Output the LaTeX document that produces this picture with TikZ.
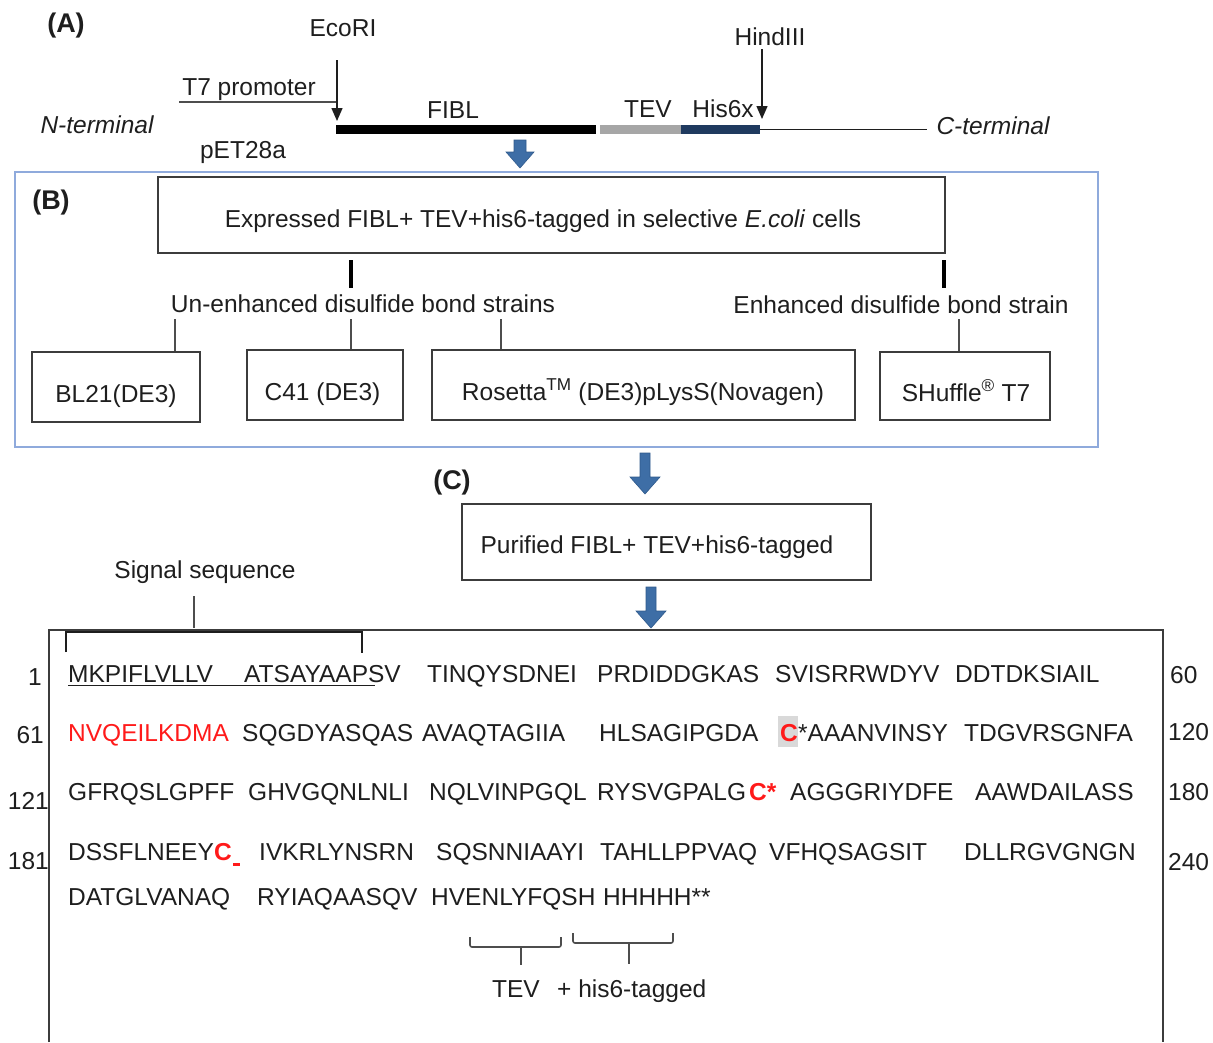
\documentclass[tikz,border=0pt]{standalone}
\usepackage{fontspec}
\setmainfont{Liberation Sans}
\usetikzlibrary{arrows.meta,calc}
\definecolor{ink}{HTML}{1E1E1E}
\definecolor{boxline}{HTML}{3C3C3C}
\definecolor{frameblue}{HTML}{8FAADC}
\definecolor{arrowblue}{HTML}{3E6EA6}
\definecolor{arrowedge}{HTML}{2F5A8C}
\definecolor{tevgray}{HTML}{A6A6A6}
\definecolor{hisnavy}{HTML}{1F3A5F}
\definecolor{seqred}{HTML}{FF1A1A}
\definecolor{hlgray}{HTML}{D9D9D9}
\definecolor{linkgray}{HTML}{4D4D4D}
\newcommand\fsz{\fontsize{24.5}{29}\selectfont}
\newcommand\fszb{\fontsize{27}{32}\selectfont\bfseries}
\begin{document}
\begin{tikzpicture}[x=1pt,y=-1pt,
  txt/.style={inner sep=0pt,anchor=base,font=\fsz,text=ink},
  txtw/.style={txt,anchor=base west},
  txte/.style={txt,anchor=base east},
  panel/.style={txt,font=\fszb},
  hot/.style={txtw,text=seqred},
  hotb/.style={txtw,text=seqred,font=\fsz\bfseries},
  box/.style={draw=boxline,line width=1.8pt,inner sep=0pt},
  frame/.style={draw=frameblue,line width=2.2pt,inner sep=0pt},
  pointer/.style={draw=ink,line width=1.4pt,-{Triangle[width=11pt,length=13pt]}},
  link/.style={draw=linkgray,line width=1.4pt},
  stem/.style={draw=black,line width=4pt},
  backbone/.style={draw=ink,line width=1.6pt},
  bar/.style={inner sep=0pt,minimum height=9pt},
  blockarrow/.style={fill=arrowblue,draw=arrowedge,line width=0.6pt},
  bracketline/.style={draw=ink,line width=1.6pt},
  tagbracket/.style={draw=linkgray,line width=1.6pt,rounded corners=2pt},
  seqframe/.style={draw=boxline,line width=2pt}
]
\useasboundingbox (0,0) rectangle (1213,1042);

% ---------------- (A) construct ----------------
\node[panel] (labA) at (66,32) {(A)};
\node[txt] (eco) at (343,36) {EcoRI};
\node[txt] (hind) at (770,45) {HindIII};
\node[txt] (t7) at (249,95) {T7 promoter};
\node[txt,font=\fsz\itshape] (nterm) at (97,133) {N-terminal};
\node[txt] (fibl) at (453,118) {FIBL};
\node[txt] (tevA) at (648,117) {TEV};
\node[txt] (hisA) at (723,117) {His6x};
\node[txt,font=\fsz\itshape] (cterm) at (993,134) {C-terminal};
\node[txt] (pet) at (243,158) {pET28a};

\node[bar,fill=black,minimum width=260pt] (fiblbar) at (466,129.5) {};
\node[bar,fill=tevgray,minimum width=81pt] (tevbar) at (640.5,129.5) {};
\node[bar,fill=hisnavy,minimum width=79pt] (hisbar) at (720.5,129.5) {};
\coordinate (cend) at (927,129.5);
\draw[backbone] (hisbar.east) -- (cend);

\coordinate (t7start) at (179,102);
\coordinate (ecotop) at (337,60);
\coordinate (ecotip) at (337,121);
\draw[link] (t7start) -- (t7start -| ecotop);
\draw[pointer] (ecotop) -- (ecotip);
\coordinate (hindtop) at (762,49);
\coordinate (hindtip) at (762,119);
\draw[pointer] (hindtop) -- (hindtip);

\filldraw[blockarrow] (514,140) -- (526,140) -- (526,152) -- (534,152) -- (520,168) -- (506,152) -- (514,152) -- cycle;

% ---------------- (B) expression ----------------
\node[frame,minimum width=1083pt,minimum height=275pt] (Bframe) at (556.5,309.5) {};
\node[panel] (labB) at (51,209) {(B)};
\node[box,minimum width=787pt,minimum height=76pt] (expr) at (551.5,215) {};
\node[txt] (exprtxt) at (543,227) {Expressed FIBL+ TEV+his6-tagged in selective \textit{E.coli} cells};

\coordinate (k1a) at (351,260);
\coordinate (k1b) at (351,288);
\draw[stem] (k1a) -- (k1b);
\coordinate (k2a) at (944,260);
\coordinate (k2b) at (944,288);
\draw[stem] (k2a) -- (k2b);

\node[txt] (unenh) at (363,312) {Un-enhanced disulfide bond strains};
\node[txt] (enh) at (901,313) {Enhanced disulfide bond strain};

\node[box,minimum width=168pt,minimum height=70pt] (bl) at (116,387) {};
\node[box,minimum width=156pt,minimum height=70pt] (cf) at (325,385) {};
\node[box,minimum width=423pt,minimum height=70pt] (ros) at (643.5,385) {};
\node[box,minimum width=170pt,minimum height=68pt] (shf) at (965,386) {};
\node[txt] (bltxt) at (116,402) {BL21(DE3)};
\node[txt] (cftxt) at (322.5,400) {C41 (DE3)};
\node[txt] (rostxt) at (643,400) {Rosetta\textsuperscript{TM} (DE3)pLysS(Novagen)};
\node[txt] (shftxt) at (966,401) {SHuffle\textsuperscript{®} T7};

\coordinate (l1) at (175,319);
\coordinate (l2) at (351,319);
\coordinate (l3) at (501,319);
\coordinate (l4) at (959,319);
\draw[link] (l1) -- (l1 |- bl.north);
\draw[link] (l2) -- (l2 |- cf.north);
\draw[link] (l3) -- (l3 |- ros.north);
\draw[link] (l4) -- (l4 |- shf.north);

\filldraw[blockarrow] (640,453) -- (650,453) -- (650,477) -- (660,477) -- (645,494) -- (630,477) -- (640,477) -- cycle;

% ---------------- (C) purification ----------------
\node[panel] (labC) at (452,489) {(C)};
\node[box,minimum width=409pt,minimum height=76pt] (pur) at (666.5,542) {};
\node[txt] (purtxt) at (657,553) {Purified FIBL+ TEV+his6-tagged};

\filldraw[blockarrow] (646,587) -- (656,587) -- (656,611) -- (666,611) -- (651,628) -- (636,611) -- (646,611) -- cycle;

\node[txt] (sig) at (205,578) {Signal sequence};
\coordinate (sigtop) at (194,596);
\coordinate (sigbot) at (194,628);
\draw[link] (sigtop) -- (sigbot);

\draw[seqframe] (49,1042) -- (49,630) -- (1163,630) -- (1163,1042);
\draw[bracketline] (66,652) -- (66,632) -- (362,632) -- (362,653);

% sequence row 1
\node[txte] (n1) at (42,685) {1};
\node[txtw] (r1a) at (68,682) {MKPIFLVLLV};
\node[txtw] (r1b) at (244,682) {ATSAYAAPSV};
\node[txtw] (r1c) at (427,682) {TINQYSDNEI};
\node[txtw] (r1d) at (597,682) {PRDIDDGKAS};
\node[txtw] (r1e) at (775,682) {SVISRRWDYV};
\node[txtw] (r1f) at (955,682) {DDTDKSIAIL};
\node[txtw] (m1) at (1170,683) {60};
\draw[bracketline] ($(r1a.base west)+(0,3.5)$) -- ($(r1a.base west)+(307,3.5)$);

% row 2
\node[txte] (n2) at (44,743) {61};
\node[hot] (r2a) at (68,741) {NVQEILKDMA};
\node[txtw] (r2b) at (242,741) {SQGDYASQAS};
\node[txtw] (r2c) at (422,741) {AVAQTAGIIA};
\node[txtw] (r2d) at (599,741) {HLSAGIPGDA};
\fill[hlgray] (778,716) rectangle (798,747);
\node[hotb] (r2e) at (780,741) {C};
\node[txtw] (r2f) at (798,741) {*AAANVINSY};
\node[txtw] (r2g) at (964,741) {TDGVRSGNFA};
\node[txtw] (m2) at (1168,740) {120};

% row 3
\node[txte] (n3) at (49,809) {121};
\node[txtw] (r3a) at (68,800) {GFRQSLGPFF};
\node[txtw] (r3b) at (248,800) {GHVGQNLNLI};
\node[txtw] (r3c) at (429,800) {NQLVINPGQL};
\node[txtw] (r3d) at (597,800) {RYSVGPALG};
\node[hotb] (r3e) at (749,800) {C*};
\node[txtw] (r3f) at (790,800) {AGGGRIYDFE};
\node[txtw] (r3g) at (975,800) {AAWDAILASS};
\node[txtw] (m3) at (1168,800) {180};

% row 4
\node[txte] (n4) at (49,869) {181};
\node[txtw] (r4a) at (68,860) {DSSFLNEEY};
\node[hotb] (r4b) at (214,860) {C};
\fill[seqred] (233,862.5) rectangle (240,865.5);
\node[txtw] (r4c) at (259,860) {IVKRLYNSRN};
\node[txtw] (r4d) at (436,860) {SQSNNIAAYI};
\node[txtw] (r4e) at (600,860) {TAHLLPPVAQ};
\node[txtw] (r4f) at (769,860) {VFHQSAGSIT};
\node[txtw] (r4g) at (964,860) {DLLRGVGNGN};
\node[txtw] (m4) at (1168,870) {240};

% row 5
\node[txtw] (r5a) at (68,905) {DATGLVANAQ};
\node[txtw] (r5b) at (257,905) {RYIAQAASQV};
\node[txtw] (r5c) at (431,905) {HVENLYFQSH};
\node[txtw] (r5d) at (603,905) {HHHHH**};

% tag brackets
\draw[tagbracket] (470,937) -- (470,947) -- (561,947) -- (561,937);
\draw[tagbracket] (573,933) -- (573,943) -- (673,943) -- (673,933);
\coordinate (tb1) at (521,947);
\coordinate (tb2) at (629,943);
\node[txt] (tevlab) at (516,997) {TEV};
\node[txtw] (hislab) at (557,997) {+ his6-tagged};
\draw[link] (tb1) -- (521,965);
\draw[link] (tb2) -- (629,964);
\end{tikzpicture}
\end{document}
